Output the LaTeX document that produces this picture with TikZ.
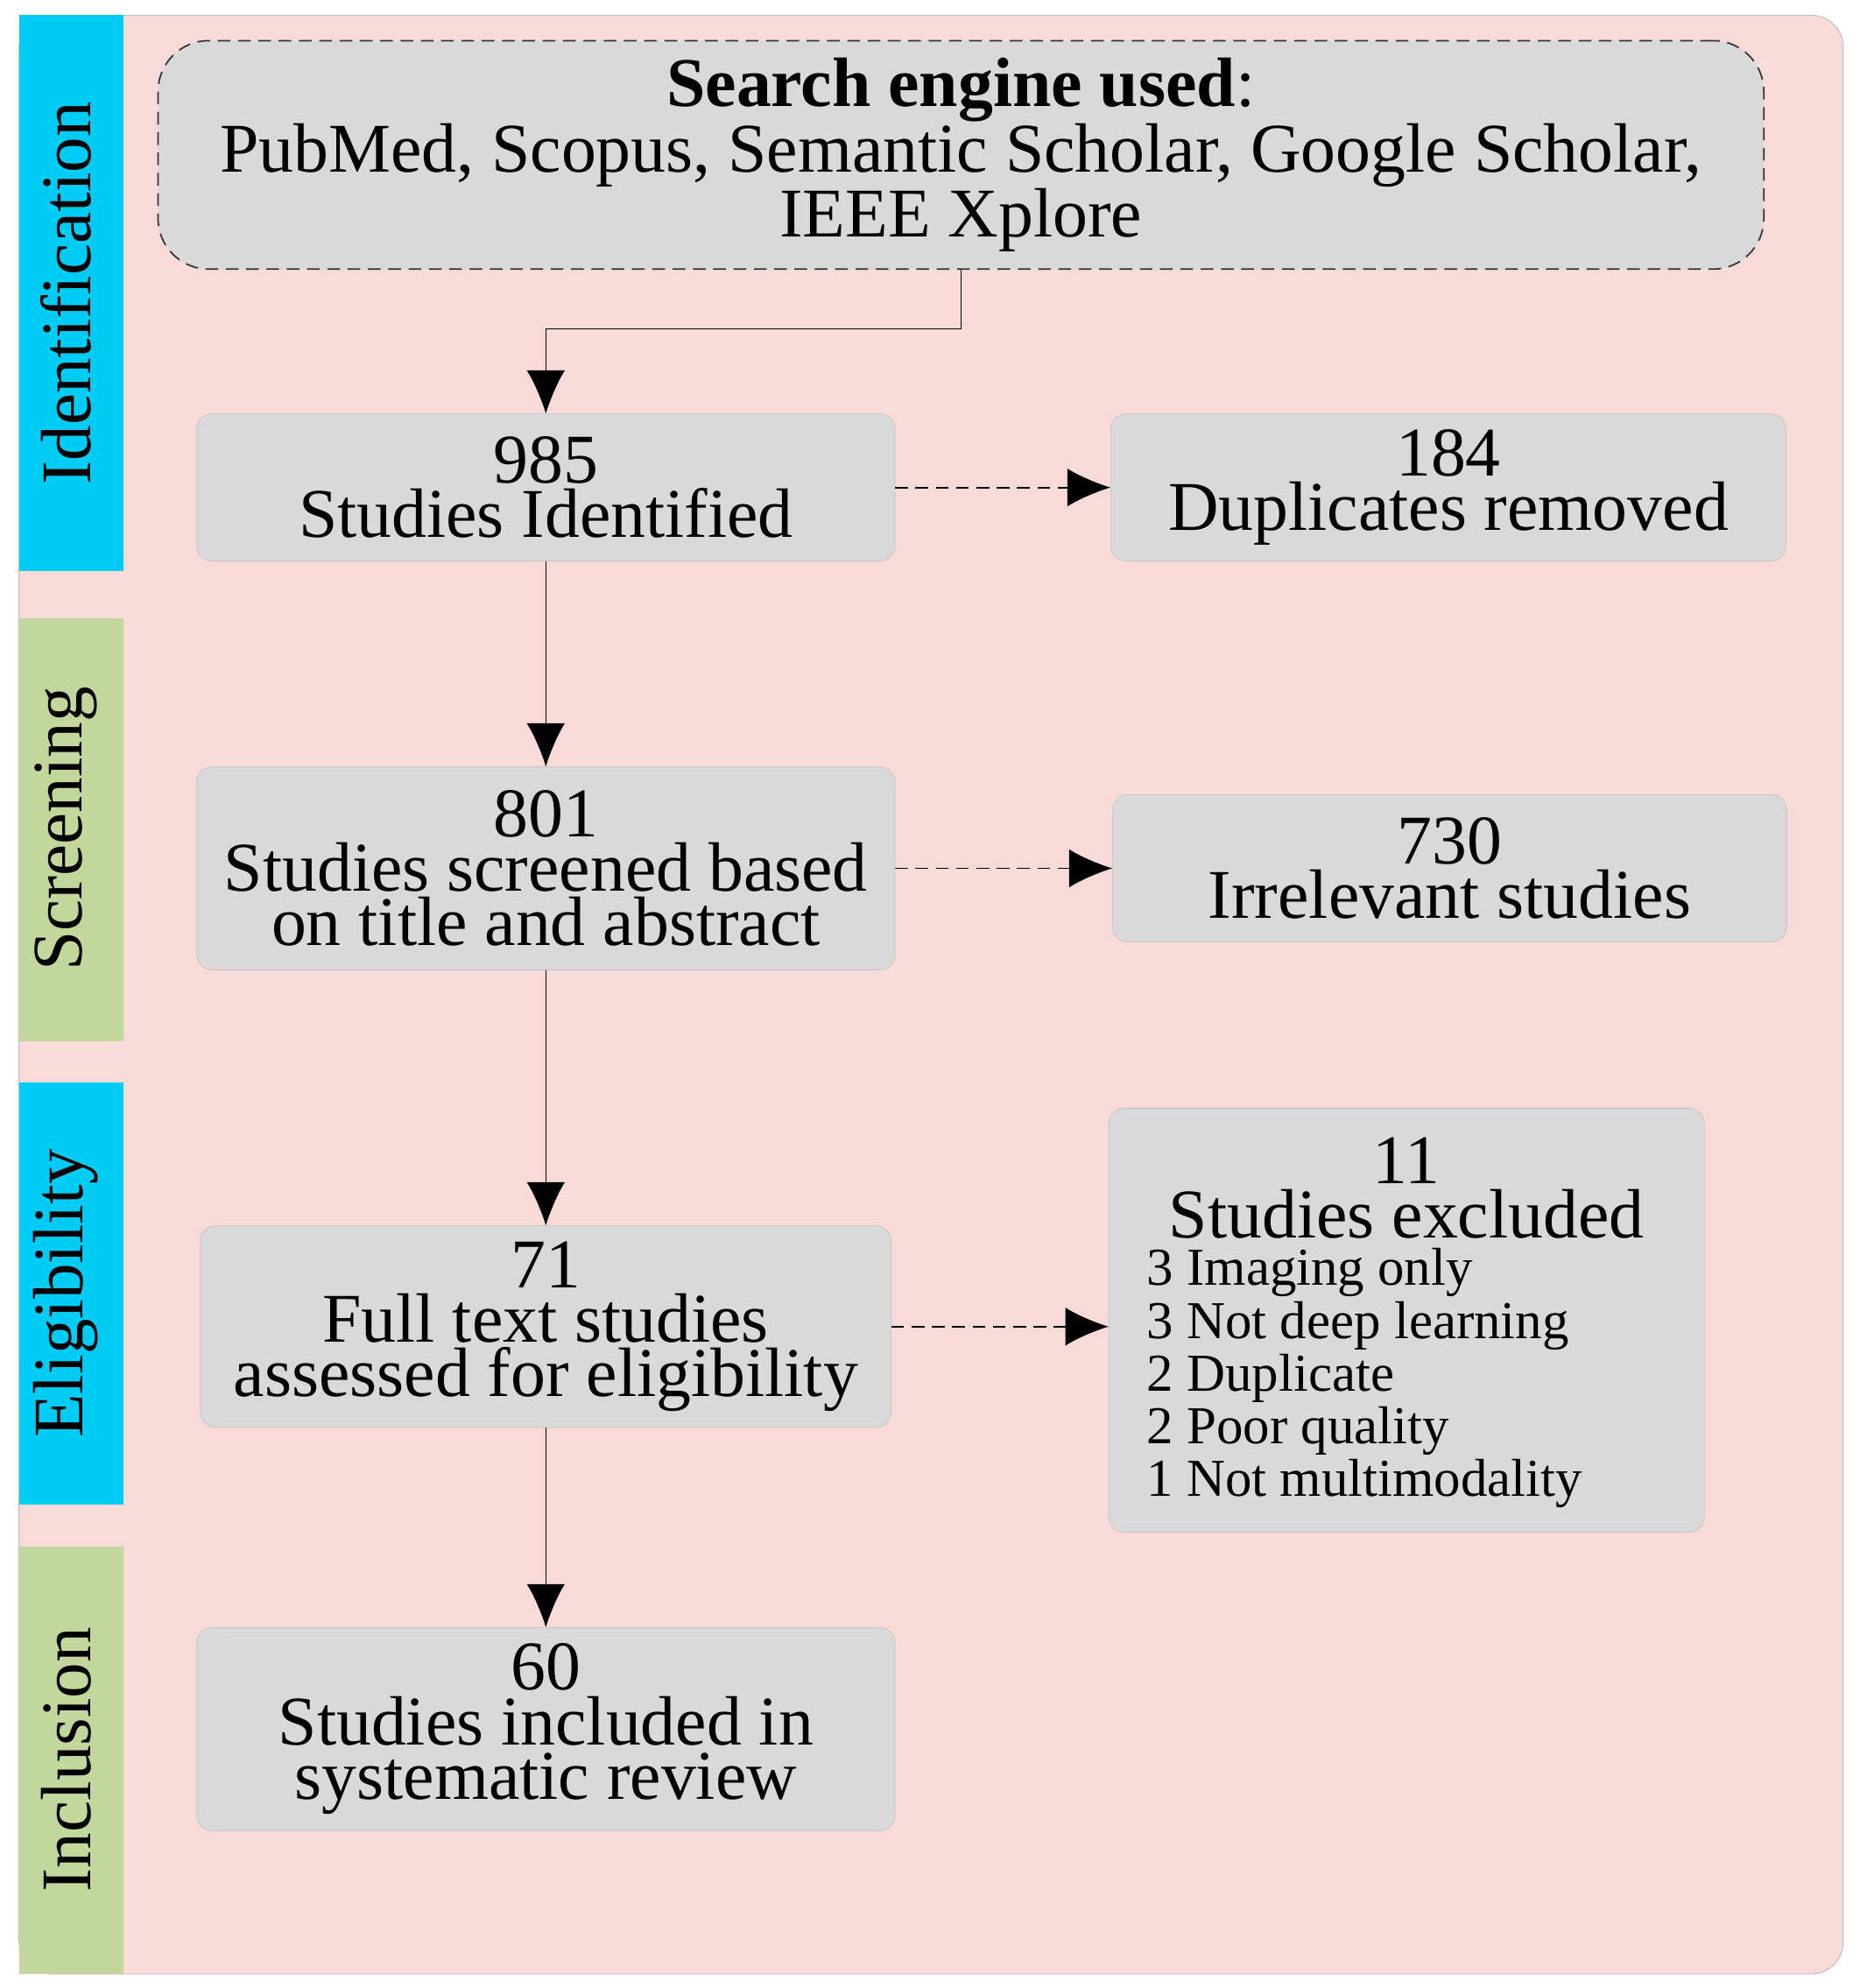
\documentclass[tikz,border=0pt]{standalone}
\usepackage{fontspec}
\setmainfont{Liberation Serif}
\usetikzlibrary{arrows.meta}
\definecolor{pinkbg}{HTML}{F8DAD8}
\definecolor{boxg}{HTML}{D9D9D9}
\definecolor{cyanb}{HTML}{00CCF5}
\definecolor{greenb}{HTML}{C3D69B}
\begin{document}
\begin{tikzpicture}[x=1pt,y=-1pt,
 box/.style={draw=black!25,fill=boxg,rounded corners=12pt,align=center,inner sep=0pt},
 big/.style={font=\fontsize{55}{43}\selectfont},
 bandlab/.style={rotate=90,font=\fontsize{56}{56}\selectfont},
 solid arr/.style={-{Latex[length=34pt,width=30pt]},line width=1pt},
 dash arr/.style={-{Latex[length=34pt,width=30pt]},line width=1.2pt,dash pattern=on 10pt off 6pt}]
\useasboundingbox (0,0) rectangle (1465,1566);
\draw[black!35,fill=pinkbg,rounded corners=25pt] (15,12) rectangle (1452,1555);
\fill[cyanb] (15,12) rectangle (97,450);
\fill[greenb] (15,487) rectangle (97,820);
\fill[cyanb] (15,853) rectangle (97,1185);
\fill[greenb] (15,1218) rectangle (97,1555);
\node[bandlab] (l1) at (52,231) {Identification};
\node[bandlab] (l2) at (52,653) {Screening};
\node[bandlab] (l3) at (52,1019) {Eligibility};
\node[bandlab] (l4) at (52,1386) {Inclusion};

\node[box,draw=black!80,line width=1.2pt,dash pattern=on 10pt off 6pt,rounded corners=40pt,minimum width=1265pt,minimum height=180pt,big] (src) at (757,122)
 {\textbf{Search engine used}:\\PubMed, Scopus, Semantic Scholar, Google Scholar,\\IEEE Xplore};
\node[box,minimum width=550pt,minimum height=116pt,big] (a) at (430,384) {985\\Studies Identified};
\node[box,minimum width=532pt,minimum height=116pt,big] (b) at (1141,384) {184\\Duplicates removed};
\node[box,minimum width=550pt,minimum height=160pt,big] (c) at (430,684) {801\\Studies screened based\\on title and abstract};
\node[box,minimum width=531pt,minimum height=116pt,big] (d) at (1142,684) {730\\Irrelevant studies};
\node[box,minimum width=544pt,minimum height=159pt,big] (e) at (430,1045) {71\\Full text studies\\assessed for eligibility};
\node[box,minimum width=469pt,minimum height=334pt] (f) at (1108,1040) {};
\node[big,align=center] (ft) at (1108,936) {11\\Studies excluded};
\node[font=\fontsize{42}{41.5}\selectfont,align=left,anchor=north west] (fl) at (900,980)
 {3 Imaging only\\3 Not deep learning\\2 Duplicate\\2 Poor quality\\1 Not multimodality};
\node[box,minimum width=550pt,minimum height=160pt,big] (g) at (430,1362) {60\\Studies included in\\systematic review};

\draw[solid arr] (src.south) -- (757,259) -- (430,259) -- (a.north);
\draw[solid arr] (a) -- (c);
\draw[solid arr] (c) -- (e);
\draw[solid arr] (e) -- (g);
\draw[dash arr] (a) -- (b);
\draw[dash arr] (c) -- (d);
\draw[dash arr] (e.east) -- (f.west|-e.east);
\end{tikzpicture}
\end{document}
